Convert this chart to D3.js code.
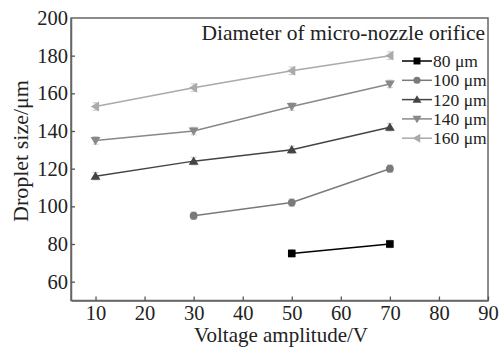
<!DOCTYPE html>
<html><head><meta charset="utf-8">
<script src="https://cdn.jsdelivr.net/npm/d3@7"></script>
<style>body{margin:0;background:#fff}svg{display:block}</style>
</head><body>
<svg id="c" width="503" height="349"></svg>
<script>
const seriesNames = ["80 μm","100 μm","120 μm","140 μm","160 μm"];
const voltages80 = [50,70], sizes80 = [75,80];
const voltages100 = [30,50,70], sizes100 = [95,102,120];
const voltages120 = [10,30,50,70], sizes120 = [116,124,130,142];
const voltages140 = [10,30,50,70], sizes140 = [135,140,153,165];
const voltages160 = [10,30,50,70], sizes160 = [153,163,172,180];
const errorBar = 2;
const xTicks = [10,20,30,40,50,60,70,80,90];
const yTicks = [60,80,100,120,140,160,180,200];
const colors = ["#000","#7a7a7a","#444","#888","#aaa"];
const symbols = [d3.symbolSquare, d3.symbolCircle, "up", "down", "left"];

const series = [
  {x:voltages80,y:sizes80},{x:voltages100,y:sizes100},{x:voltages120,y:sizes120},
  {x:voltages140,y:sizes140},{x:voltages160,y:sizes160}];

const svg = d3.select("#c");
const L=71,R=488,T=18,B=300.5;
const x = d3.scaleLinear().domain([5,90]).range([L,R]);
const y = d3.scaleLinear().domain([50,200]).range([B,T]);
const font = "'Liberation Serif','Times New Roman',serif";

// frame
svg.append("rect").attr("x",L).attr("y",T).attr("width",R-L).attr("height",B-T)
  .attr("fill","none").attr("stroke","#666").attr("stroke-width",1.5);

const xa = svg.append("g").attr("transform",`translate(0,${B})`)
  .call(d3.axisBottom(x).tickValues(xTicks).tickSizeInner(-4).tickSizeOuter(0).tickPadding(5));
const ya = svg.append("g").attr("transform",`translate(${L},0)`)
  .call(d3.axisLeft(y).tickValues(yTicks).tickSizeInner(-4).tickSizeOuter(0).tickPadding(3));
[xa,ya].forEach(a=>{
  a.attr("font-family",font).attr("font-size",20);
  a.select(".domain").attr("stroke","#666").attr("stroke-width",1.5);
  a.selectAll(".tick line").attr("stroke","#555").attr("stroke-width",1.3);
  a.selectAll("text").attr("font-family",font).attr("font-size",20.5).attr("fill","#222");
});
ya.selectAll(".tick").filter(d=>d===200).select("line").remove();

function marker(g, k, size, col){
  const s = symbols[k];
  if (typeof s !== "string") {
    g.append("path").attr("d",d3.symbol().type(s).size(size)()).attr("fill",col);
  } else {
    const r = Math.sqrt(size)*0.62;
    let pts;
    if (s==="up") pts=[[0,-r],[r*1.05,r*0.75],[-r*1.05,r*0.75]];
    else if (s==="down") pts=[[0,r],[r*1.05,-r*0.75],[-r*1.05,-r*0.75]];
    else pts=[[-r,0],[r*0.75,-r*1.05],[r*0.75,r*1.05]];
    g.append("path").attr("d","M"+pts.join("L")+"Z").attr("fill",col);
  }
}

const line = d3.line().x(d=>x(d[0])).y(d=>y(d[1]));
series.forEach((s,k)=>{
  const pts = s.x.map((v,i)=>[v,s.y[i]]);
  const g = svg.append("g");
  // error bars
  pts.forEach(p=>{
    g.append("line").attr("x1",x(p[0])).attr("x2",x(p[0]))
      .attr("y1",y(p[1]-errorBar)).attr("y2",y(p[1]+errorBar))
      .attr("stroke","#ccc").attr("stroke-width",1);
    [p[1]-errorBar,p[1]+errorBar].forEach(e=>g.append("line")
      .attr("x1",x(p[0])-3).attr("x2",x(p[0])+3).attr("y1",y(e)).attr("y2",y(e))
      .attr("stroke","#ccc").attr("stroke-width",1));
  });
  g.append("path").datum(pts).attr("d",line).attr("fill","none")
    .attr("stroke",colors[k]).attr("stroke-width",1.5);
  pts.forEach(p=>{
    const m = g.append("g").attr("transform",`translate(${x(p[0])},${y(p[1])})`);
    marker(m,k,k===1?48:58,colors[k]);
  });
});

// title
svg.append("text").attr("x",485).attr("y",40).attr("text-anchor","end")
  .attr("font-family",font).attr("font-size",21.5).attr("fill","#222")
  .text("Diameter of micro-nozzle orifice");

// legend
const lg = svg.append("g");
seriesNames.forEach((n,k)=>{
  const yy = 61 + k*19.3;
  lg.append("line").attr("x1",402).attr("x2",432).attr("y1",yy).attr("y2",yy)
    .attr("stroke",colors[k]).attr("stroke-width",1.5);
  const m = lg.append("g").attr("transform",`translate(417,${yy})`);
  marker(m,k,k===1?40:48,colors[k]);
  lg.append("text").attr("x",433).attr("y",yy+6).attr("font-family",font)
    .attr("font-size",17.5).attr("fill","#222").text(n);
});

// axis titles
svg.append("text").attr("x",281).attr("y",342).attr("text-anchor","middle")
  .attr("font-family",font).attr("font-size",21).attr("fill","#222")
  .text("Voltage amplitude/V");
svg.append("text").attr("transform","translate(28,151) rotate(-90)").attr("text-anchor","middle")
  .attr("font-family",font).attr("font-size",22).attr("fill","#222")
  .text("Droplet size/μm");
</script>
</body></html>
